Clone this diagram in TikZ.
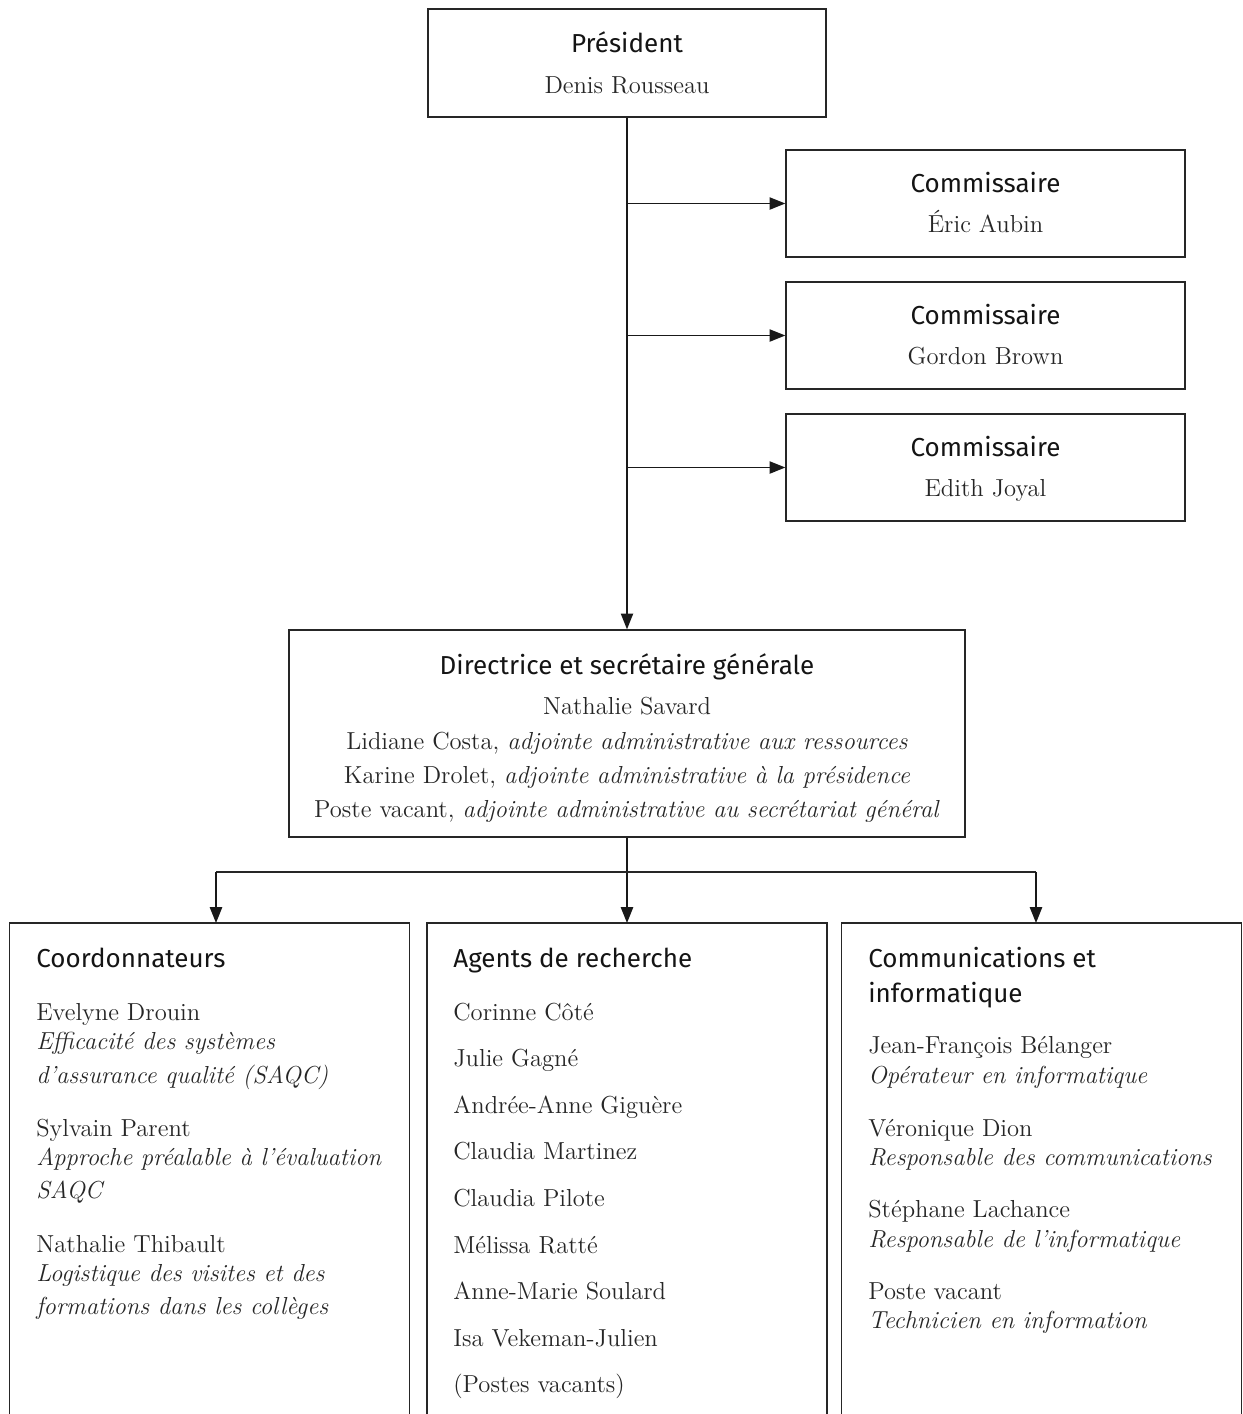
\documentclass[tikz,border=0pt]{standalone}
\usepackage{fontspec}
\setsansfont{Fira Sans}
\usepackage{tikz}
\usetikzlibrary{arrows.meta}

\tikzset{
  box/.style={draw=black!85, line width=0.8pt, inner sep=0pt},
  frame/.style={draw=black!85, line width=0.8pt},
  link/.style={draw=black!90, line width=0.8pt, -{Triangle[length=9pt,width=7pt]}},
  titre/.style={font=\sffamily\fontsize{14.8}{17}\selectfont, text=black!92, inner sep=0pt},
  nom/.style={font=\fontsize{14}{17}\selectfont, text=black!85, inner sep=0pt},
}

\begin{document}
\begin{tikzpicture}[x=0.02cm,y=-0.02cm]

\useasboundingbox (0,0) rectangle (1243,1414);

% Boxes at the top
\node[box, minimum width=7.96cm, minimum height=2.16cm] (Pr) at (627,63) {};
\node[box, minimum width=7.98cm, minimum height=2.14cm] (C1) at (985.5,203.5) {};
\node[box, minimum width=7.98cm, minimum height=2.14cm] (C2) at (985.5,335.5) {};
\node[box, minimum width=7.98cm, minimum height=2.14cm] (C3) at (985.5,467.5) {};
\node[box, minimum width=13.52cm, minimum height=4.14cm] (D) at (627,733.5) {};

% Open boxes at the bottom
\node[inner sep=0pt, minimum width=7.98cm, minimum height=9.9cm, anchor=north] (B1) at (209.5,923) {};
\node[inner sep=0pt, minimum width=7.98cm, minimum height=9.9cm, anchor=north] (B2) at (627,923) {};
\node[inner sep=0pt, minimum width=7.98cm, minimum height=9.9cm, anchor=north] (B3) at (1041.5,923) {};
\draw[frame] (B1.south west) -- (B1.north west) -- (B1.north east) -- (B1.south east);
\draw[frame] (B2.south west) -- (B2.north west) -- (B2.north east) -- (B2.south east);
\draw[frame] (B3.south west) -- (B3.north west) -- (B3.north east) -- (B3.south east);

% Connectors
\coordinate (H) at (627,872);
\coordinate (HL) at (216,872);
\coordinate (HR) at (1036,872);
\draw[link] (Pr.south) -- (D.north);
\draw[link] (Pr.south |- C1.west) -- (C1.west);
\draw[link] (Pr.south |- C2.west) -- (C2.west);
\draw[link] (Pr.south |- C3.west) -- (C3.west);
\draw[link] (D.south) -- (B2.north);
\draw[frame] (HL) -- (HR);
\draw[link] (HL) -- (HL |- B1.north);
\draw[link] (HR) -- (HR |- B3.north);

% Texts of the top boxes
\node[titre, anchor=base] (PrT) at (627,52) {Président};
\node[nom, anchor=base] (PrN) at (627,93) {Denis Rousseau};
\node[titre, anchor=base] (C1T) at (985.5,192) {Commissaire};
\node[nom, anchor=base] (C1N) at (985.5,232) {Éric Aubin};
\node[titre, anchor=base] (C2T) at (985.5,324) {Commissaire};
\node[nom, anchor=base] (C2N) at (985.5,364) {Gordon Brown};
\node[titre, anchor=base] (C3T) at (985.5,456) {Commissaire};
\node[nom, anchor=base] (C3N) at (985.5,496) {Edith Joyal};

\node[titre, anchor=base] (DT) at (627,674) {Directrice et secrétaire générale};
\node[nom, anchor=base] (D1) at (627,714) {Nathalie Savard};
\node[nom, anchor=base] (D2) at (627,749) {Lidiane Costa, \textit{adjointe administrative aux ressources}};
\node[nom, anchor=base] (D3) at (627,783) {Karine Drolet, \textit{adjointe administrative à la présidence}};
\node[nom, anchor=base] (D4) at (627,817) {Poste vacant, \textit{adjointe administrative au secrétariat général}};

% Coordonnateurs
\node[titre, anchor=base west] (B1T) at (36,967) {Coordonnateurs};
\node[nom, anchor=base west] (B1a) at (36,1020) {Evelyne Drouin};
\node[nom, anchor=base west] (B1b) at (36,1049) {\textit{Efficacité des systèmes}};
\node[nom, anchor=base west] (B1c) at (36,1083) {\textit{d’assurance qualité (SAQC)}};
\node[nom, anchor=base west] (B1d) at (36,1136) {Sylvain Parent};
\node[nom, anchor=base west] (B1e) at (36,1165) {\textit{Approche préalable à l’évaluation}};
\node[nom, anchor=base west] (B1f) at (36,1198) {\textit{SAQC}};
\node[nom, anchor=base west] (B1g) at (36,1252) {Nathalie Thibault};
\node[nom, anchor=base west] (B1h) at (36,1281) {\textit{Logistique des visites et des}};
\node[nom, anchor=base west] (B1i) at (36,1314) {\textit{formations dans les collèges}};

% Agents de recherche
\node[titre, anchor=base west] (B2T) at (453,967) {Agents de recherche};
\node[nom, anchor=base west] (B2a) at (453,1020) {Corinne Côté};
\node[nom, anchor=base west] (B2b) at (453,1066) {Julie Gagné};
\node[nom, anchor=base west] (B2c) at (453,1113) {Andrée-Anne Giguère};
\node[nom, anchor=base west] (B2d) at (453,1159) {Claudia Martinez};
\node[nom, anchor=base west] (B2e) at (453,1206) {Claudia Pilote};
\node[nom, anchor=base west] (B2f) at (453,1253) {Mélissa Ratté};
\node[nom, anchor=base west] (B2g) at (453,1299) {Anne-Marie Soulard};
\node[nom, anchor=base west] (B2h) at (453,1346) {Isa Vekeman-Julien};
\node[nom, anchor=base west] (B2i) at (453,1392) {(Postes vacants)};

% Communications et informatique
\node[titre, anchor=base west] (B3T) at (868,967) {Communications et};
\node[titre, anchor=base west] (B3U) at (868,1002) {informatique};
\node[nom, anchor=base west] (B3a) at (868,1053) {Jean-François Bélanger};
\node[nom, anchor=base west] (B3b) at (868,1083) {\textit{Opérateur en informatique}};
\node[nom, anchor=base west] (B3c) at (868,1136) {Véronique Dion};
\node[nom, anchor=base west] (B3d) at (868,1165) {\textit{Responsable des communications}};
\node[nom, anchor=base west] (B3e) at (868,1217) {Stéphane Lachance};
\node[nom, anchor=base west] (B3f) at (868,1247) {\textit{Responsable de l’informatique}};
\node[nom, anchor=base west] (B3g) at (868,1299) {Poste vacant};
\node[nom, anchor=base west] (B3h) at (868,1328) {\textit{Technicien en information}};

\end{tikzpicture}
\end{document}
